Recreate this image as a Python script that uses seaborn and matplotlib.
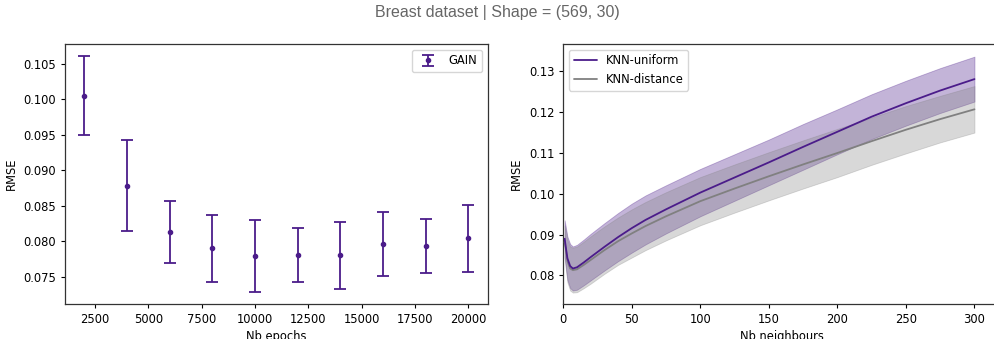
import numpy as np
import matplotlib
matplotlib.use("Agg")
import matplotlib.pyplot as plt
import seaborn as sns

sns.set_style("ticks")
plt.rcParams['font.family'] = ['DejaVu Sans']
plt.rcParams['font.size'] = 8.3
plt.rcParams['axes.edgecolor'] = '#333333'
plt.rcParams['axes.linewidth'] = 0.9
plt.rcParams['xtick.color'] = 'black'
plt.rcParams['ytick.color'] = 'black'
plt.rcParams['xtick.major.size'] = 3
plt.rcParams['ytick.major.size'] = 3
plt.rcParams['xtick.major.width'] = 0.8
plt.rcParams['ytick.major.width'] = 0.8
plt.rcParams['text.color'] = 'black'
plt.rcParams['axes.labelcolor'] = 'black'

PURPLE = '#4B1C8A'
GRAY = '#808080'

# GAIN: RMSE vs number of epochs (mean +/- std)
epochs = [2000, 4000, 6000, 8000, 10000, 12000, 14000, 16000, 18000, 20000]
gain_mean = [0.1005, 0.0878, 0.0813, 0.0790, 0.0779, 0.0781, 0.0780, 0.0796, 0.0793, 0.0804]
gain_std = [0.0056, 0.0064, 0.0044, 0.0047, 0.0051, 0.0038, 0.0047, 0.0045, 0.0038, 0.0047]

# KNN: RMSE vs number of neighbours (mean +/- std)
neighbours = [1, 2, 3, 5, 7, 10, 15, 20, 30, 40, 50, 60, 75, 100, 125, 150, 175, 200, 225, 250, 275, 300]
uniform_mean = [0.0890, 0.0865, 0.0842, 0.0823, 0.0817, 0.0820, 0.0832, 0.0845, 0.0870, 0.0894,
                0.0916, 0.0936, 0.0962, 0.1003, 0.1040, 0.1077, 0.1115, 0.1152, 0.1189, 0.1222,
                0.1253, 0.1281]
uniform_std = [0.0045, 0.0050, 0.0053, 0.0054, 0.0054, 0.0055, 0.0056, 0.0057, 0.0058, 0.0059,
               0.0060, 0.0060, 0.0059, 0.0058, 0.0057, 0.0056, 0.0056, 0.0055, 0.0055, 0.0055,
               0.0055, 0.0055]
distance_mean = [0.0882, 0.0860, 0.0835, 0.0817, 0.0813, 0.0815, 0.0826, 0.0838, 0.0862, 0.0884,
                 0.0903, 0.0921, 0.0945, 0.0982, 0.1013, 0.1043, 0.1072, 0.1100, 0.1129, 0.1157,
                 0.1183, 0.1207]
distance_std = [0.0040, 0.0048, 0.0052, 0.0054, 0.0055, 0.0056, 0.0057, 0.0058, 0.0058, 0.0058,
                0.0059, 0.0059, 0.0059, 0.0059, 0.0059, 0.0059, 0.0059, 0.0059, 0.0058, 0.0058,
                0.0057, 0.0057]

fig = plt.figure(figsize=(9.94, 3.39), dpi=100)
ax1 = fig.add_axes([0.0654, 0.1032, 0.4252, 0.767])
ax2 = fig.add_axes([0.5667, 0.1032, 0.4393, 0.767])

# --- left: GAIN error bars ---
ax1.errorbar(epochs, gain_mean, yerr=gain_std, fmt='o', color=PURPLE, ecolor=PURPLE,
             markersize=3, elinewidth=1.3, capsize=4.3, capthick=1.3, label='GAIN')
ax1.set_xlabel('Nb epochs', labelpad=3)
ax1.set_ylabel('RMSE')
ax1.legend(loc='upper right', frameon=True)

# --- right: KNN curves with std bands ---
um = np.array(uniform_mean)
us = np.array(uniform_std)
dm = np.array(distance_mean)
ds = np.array(distance_std)
ax2.fill_between(neighbours, um - us, um + us, color=PURPLE, alpha=0.33, linewidth=0.6)
ax2.fill_between(neighbours, dm - ds, dm + ds, color=GRAY, alpha=0.3, linewidth=0.6)
sns.lineplot(x=neighbours, y=uniform_mean, ax=ax2, color=PURPLE, linewidth=1.3,
             label='KNN-uniform', zorder=4)
sns.lineplot(x=neighbours, y=distance_mean, ax=ax2, color=GRAY, linewidth=1.3,
             label='KNN-distance', zorder=3)
ax2.set_xlim(0, 318.6)
ax2.set_ylim(0.0730, 0.1367)
ax2.set_xticks([0, 50, 100, 150, 200, 250, 300])
ax2.set_xlabel('Nb neighbours', labelpad=3)
ax2.set_ylabel('RMSE')
ax2.legend(loc='upper left', frameon=True)

for ax in (ax1, ax2):
    for s in ax.spines.values():
        s.set_visible(True)

fig.suptitle('Breast dataset | Shape = (569, 30)', x=0.5, y=0.985, fontsize=11.5,
             color='#666666', family=['Liberation Sans', 'DejaVu Sans'])

fig.savefig('out.png', dpi=100)
